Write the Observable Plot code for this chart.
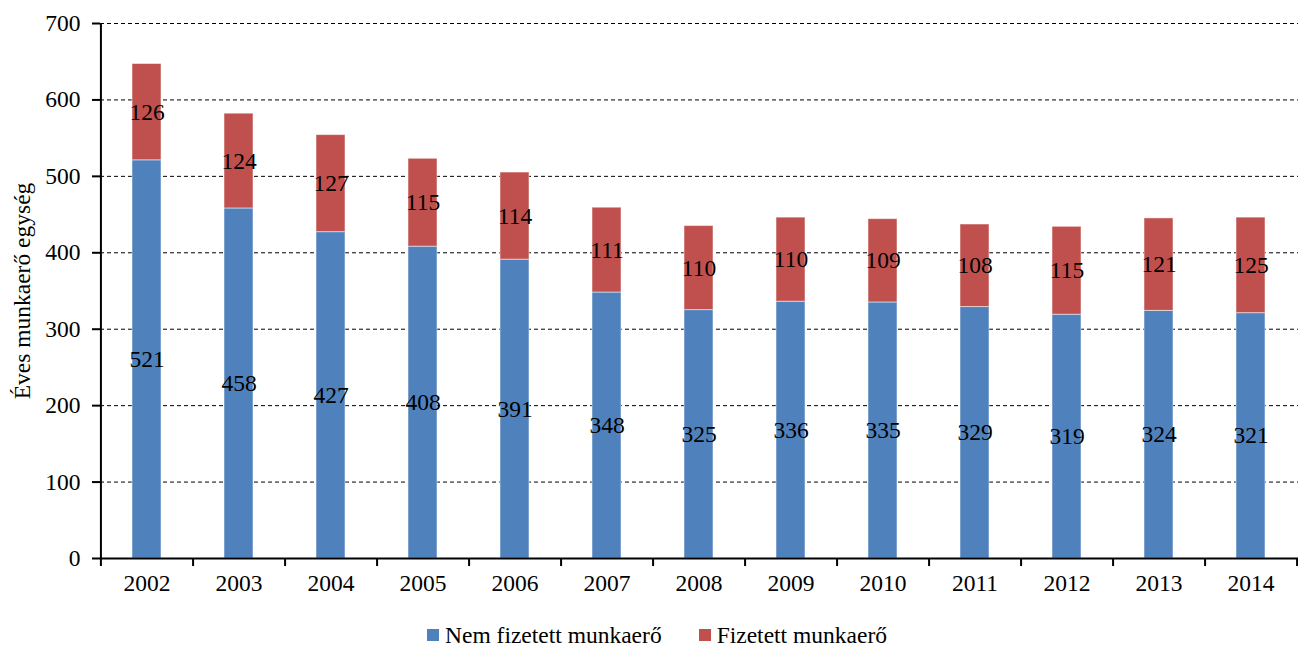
<!DOCTYPE html>
<html>
<head>
<meta charset="utf-8">
<script src="https://cdn.jsdelivr.net/npm/d3@7"></script>
<script src="https://cdn.jsdelivr.net/npm/@observablehq/plot@0.6"></script>
<style>
  html, body { margin: 0; padding: 0; background: #fff; }
  body { width: 1298px; height: 649px; overflow: hidden; font-family: "Liberation Serif", "Times New Roman", serif; }
  svg text { font-family: "Liberation Serif", "Times New Roman", serif !important; }
  #legend { height: 39px; box-sizing: border-box; padding-top: 10px; padding-left: 427px; display: flex; align-items: center; font-size: 23.5px; line-height: 28px; color: #000; }
  .item { display: flex; align-items: center; margin-right: 37px; }
  .sw { width: 12px; height: 12px; margin-right: 6px; }
</style>
</head>
<body>
<div id="chart"></div>
<div id="legend"></div>
<script>
const years = ["2002","2003","2004","2005","2006","2007","2008","2009","2010","2011","2012","2013","2014"];
const nemFizetett = [521,458,427,408,391,348,325,336,335,329,319,324,321];
const fizetett = [126,124,127,115,114,111,110,110,109,108,115,121,125];
const seriesNames = ["Nem fizetett munkaerő", "Fizetett munkaerő"];
const seriesColors = ["#4F81BD", "#C0504D"];
const yTicks = [0,100,200,300,400,500,600,700];
const gridTicks = [100,200,300,400,500,600,700];
const yTitle = "Éves munkaerő egység";

const data = [];
years.forEach((y, i) => {
  data.push({year: y, series: seriesNames[0], value: nemFizetett[i]});
  data.push({year: y, series: seriesNames[1], value: fizetett[i]});
});

const W = 1298, H = 610, mL = 100, mR = 0, mT = 23, mB = 52;
const step = (W - mL - mR) / years.length;
const font = "Liberation Serif";
const fs = 23.5;

const chart = Plot.plot({
  width: W, height: H,
  marginLeft: mL, marginRight: mR, marginTop: mT, marginBottom: mB,
  style: {fontFamily: font, fontSize: fs + "px", color: "#000", background: "#fff"},
  x: {type: "band", domain: years, paddingInner: 0.68, paddingOuter: 0.34, axis: null},
  y: {domain: [0, 700], axis: null},
  color: {domain: seriesNames, range: seriesColors},
  marks: [
    Plot.gridY(gridTicks, {stroke: "#000", strokeOpacity: 1, strokeDasharray: "4,3", strokeWidth: 1}),
    Plot.barY(data, Plot.stackY({x: "year", y: "value", fill: "series", order: seriesNames, stroke: "#fff", strokeOpacity: 0.5, strokeWidth: 1})),
    Plot.text(data, Plot.stackY({x: "year", y: "value", z: "series", order: seriesNames, text: d => String(d.value), fill: "#000", fontSize: fs, fontFamily: font})),
    Plot.ruleY([0], {stroke: "#000", strokeWidth: 2}),
    Plot.ruleX([years[0]], {dx: -step / 2, y1: 0, y2: 700, stroke: "#000", strokeWidth: 2}),
    Plot.axisY(yTicks, {tickSize: 8, tickPadding: 12, fontSize: fs, label: null, strokeWidth: 2}),
    Plot.axisX(years, {tickSize: 0, tickPadding: 16, fontSize: fs, label: null}),
    Plot.axisX(years, {tickSize: 8, dx: step / 2, tickFormat: () => "", label: null, strokeWidth: 2}),
    Plot.axisX([years[0]], {tickSize: 8, dx: -step / 2, tickFormat: () => "", label: null, strokeWidth: 2}),
    Plot.text([yTitle], {frameAnchor: "left", textAnchor: "middle", rotate: -90, dx: -78, fontSize: fs, fontFamily: font, fill: "#000"})
  ]
});
document.getElementById("chart").appendChild(chart);

const legend = document.getElementById("legend");
seriesNames.forEach((name, i) => {
  const item = document.createElement("div");
  item.className = "item";
  const sw = document.createElement("div");
  sw.className = "sw";
  sw.style.background = seriesColors[i];
  const t = document.createElement("span");
  t.textContent = name;
  item.appendChild(sw);
  item.appendChild(t);
  legend.appendChild(item);
});
</script>
</body>
</html>
